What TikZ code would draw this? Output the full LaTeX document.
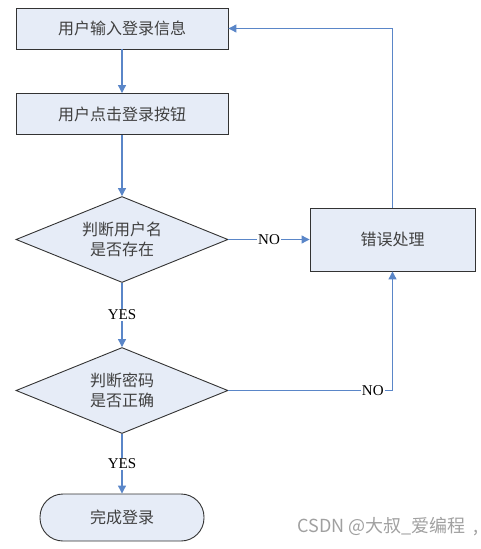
\documentclass[tikz,border=0pt]{standalone}
\usepackage{fontspec}
\setmainfont{Liberation Serif}
\newfontfamily\cjk{Noto Sans CJK SC}
\usetikzlibrary{shapes.geometric,arrows.meta,positioning}
\definecolor{boxfill}{HTML}{E6ECF7}
\definecolor{linkblue}{HTML}{5A86C8}
\definecolor{wm}{HTML}{A0A0A0}
\tikzset{
  procbox/.style={draw=black!80, line width=0.9pt, fill=boxfill, minimum width=212pt, minimum height=41pt, font=\cjk\fontsize{16}{18}\selectfont, text=black!75, inner sep=0pt},
  decision/.style={draw=black!80, line width=0.9pt, fill=boxfill, diamond, aspect=2.5, minimum width=212pt, minimum height=86pt, inner sep=0pt, font=\cjk\fontsize{16}{20}\selectfont, text=black!75, align=center},
  termbox/.style={draw=black!80, line width=0.9pt, fill=boxfill, rounded corners=23pt, minimum width=164pt, minimum height=47pt, inner sep=0pt, font=\cjk\fontsize{16}{18}\selectfont, text=black!75},
  link/.style={draw=linkblue, line width=1.1pt, -{Triangle[width=8pt,length=8pt]}},
  lbl/.style={fill=white, inner sep=1pt, font=\fontsize{15}{17}\selectfont, text=black}
}
\begin{document}
\begin{tikzpicture}[x=1pt,y=-1pt]
\useasboundingbox (0,0) rectangle (480,549);
\node[procbox] (input) at (122,28.5) {用户输入登录信息};
\node[procbox] (click) at (122,114) {用户点击登录按钮};
\node[decision] (user) at (122,239.5) {判断用户名\\是否存在};
\node[procbox, minimum width=165pt, minimum height=63pt] (err) at (392.5,239.5) {错误处理};
\node[decision] (pwd) at (122,390.5) {判断密码\\是否正确};
\node[termbox] (done) at (122,517.5) {完成登录};
\node[font=\cjk\fontsize{18}{20}\selectfont, text=wm, anchor=east, inner sep=1pt] (wmark) at (480,527) {CSDN @大叔\_爱编程\hspace{8pt},};

\draw[link] (input) -- (click);
\draw[link] (click) -- (user);
\draw[link] (user.east) -- node[lbl] (no1) {NO} (err.west);
\draw[link] (user.south) -- node[lbl] (yes1) {YES} (pwd.north);
\draw[link] (pwd.south) -- node[lbl, pos=0.5] (yes2) {YES} (done.north);
\coordinate (c1) at (392.5,390.5);
\draw[link] (pwd.east) -- node[lbl, pos=0.88] (no2) {NO} (c1) -- (err.south);
\coordinate (c2) at (392.5,28.5);
\draw[link] (err.north) -- (c2) -- (input.east);
\end{tikzpicture}
\end{document}
